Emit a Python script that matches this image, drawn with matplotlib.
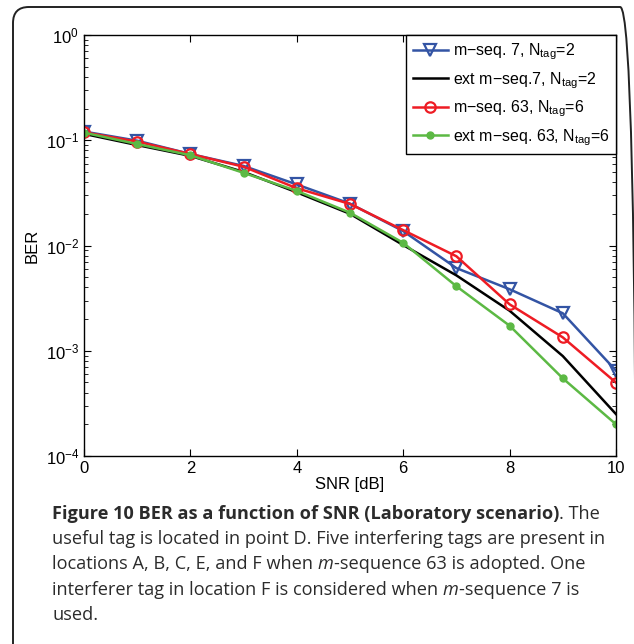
import matplotlib
matplotlib.use('Agg')
import matplotlib.pyplot as plt
from matplotlib.patches import FancyBboxPatch
from matplotlib.ticker import LogLocator, NullFormatter

# data
snr_db = [0, 1, 2, 3, 4, 5, 6, 7, 8, 9, 10]
ber_mseq7 = [0.121, 0.099, 0.074, 0.057, 0.038, 0.025, 0.0137, 0.0061, 0.00384, 0.00227, 0.000647]
ber_ext_mseq7 = [0.115, 0.090, 0.071, 0.050, 0.032, 0.020, 0.0101, 0.0052, 0.0024, 0.00089, 0.00025]
ber_mseq63 = [0.119, 0.097, 0.074, 0.056, 0.035, 0.0248, 0.0140, 0.0079, 0.00276, 0.00134, 0.000498]
ber_ext_mseq63 = [0.118, 0.092, 0.072, 0.049, 0.033, 0.0205, 0.0106, 0.0041, 0.00173, 0.000547, 0.0002]

labels = ['m\u2212seq. 7, N$_{\\mathrm{tag}}$=2',
          'ext m\u2212seq.7, N$_{\\mathrm{tag}}$=2',
          'm\u2212seq. 63, N$_{\\mathrm{tag}}$=6',
          'ext m\u2212seq. 63, N$_{\\mathrm{tag}}$=6']

caption_lines = [
    [('Figure 10 BER as a function of SNR (Laboratory scenario)', 'bold'), ('. The', 'normal')],
    [('useful tag is located in point D. Five interfering tags are present in', 'normal')],
    [('locations A, B, C, E, and F when ', 'normal'), ('m', 'italic'),
     ('-sequence 63 is adopted. One', 'normal')],
    [('interferer tag in location F is considered when ', 'normal'), ('m', 'italic'),
     ('-sequence 7 is', 'normal')],
    [('used.', 'normal')],
]

plt.rcParams['font.family'] = ['Liberation Sans', 'DejaVu Sans']
plt.rcParams['mathtext.fontset'] = 'custom'
plt.rcParams['mathtext.rm'] = 'Liberation Sans'
plt.rcParams['mathtext.it'] = 'Liberation Sans:italic'

LABEL_SIZE = 12
TICK_SIZE = 12
LEGEND_SIZE = 11.5
CAP_SIZE = 13.1

fig = plt.figure(figsize=(6.34, 6.44), dpi=100)
ax = fig.add_axes([84 / 634, 1 - 456 / 644, 532 / 634, 421 / 644])

ax.plot(snr_db, ber_mseq7, color='#3354a4', lw=1.8, marker='v', ms=8,
        mfc='none', mew=1.6, label=labels[0])
ax.plot(snr_db, ber_ext_mseq7, color='black', lw=1.8, label=labels[1])
ax.plot(snr_db, ber_mseq63, color='#ee1c24', lw=1.8, marker='o', ms=7.5,
        mfc='none', mew=1.6, label=labels[2])
ax.plot(snr_db, ber_ext_mseq63, color='#5cb944', lw=1.8, marker='o', ms=5,
        mfc='#5cb944', mec='#5cb944', label=labels[3])

ax.set_yscale('log')
ax.set_ylim(1e-4, 1)
ax.set_xlim(0, 10)
ax.set_xticks([0, 2, 4, 6, 8, 10])
ax.yaxis.set_major_locator(LogLocator(base=10, numticks=10))
ax.yaxis.set_minor_locator(LogLocator(base=10, subs=range(2, 10), numticks=10))
ax.yaxis.set_minor_formatter(NullFormatter())
ax.tick_params(which='both', direction='in', top=True, right=True, labelsize=TICK_SIZE)
ax.tick_params(which='major', length=5)
ax.tick_params(which='minor', length=3)
for sp in ax.spines.values():
    sp.set_linewidth(1.0)

ax.set_xlabel('SNR [dB]', fontsize=LABEL_SIZE, labelpad=1)
ax.set_ylabel('BER', fontsize=LABEL_SIZE, labelpad=4)

leg = ax.legend(loc='upper right', fontsize=LEGEND_SIZE, fancybox=False,
                framealpha=1, edgecolor='black', borderaxespad=0,
                handlelength=2.2, handletextpad=0.3, labelspacing=0.5,
                borderpad=0.4)
leg.get_frame().set_linewidth(1.0)

# rounded frame around the whole panel
frame = FancyBboxPatch((13 / 634, -0.05), (636 - 13) / 634, 1.05 - 7 / 644,
                       boxstyle='round,pad=0,rounding_size=0.025',
                       transform=fig.transFigure, fill=False,
                       edgecolor='#222222', lw=1.4, clip_on=False)
fig.add_artist(frame)


# caption, built from segments chained one after another
def caption_style(kind):
    st = dict(fontsize=CAP_SIZE, family=['Open Sans', 'DejaVu Sans'], color='#2b2b2b')
    if kind == 'bold':
        st['weight'] = 'bold'
    if kind == 'italic':
        st['style'] = 'italic'
    return st


y0 = 1 - 514 / 644
for i, parts in enumerate(caption_lines):
    y = y0 - i * 25.2 / 644
    txt = fig.text(52 / 634, y, parts[0][0], va='center', ha='left', **caption_style(parts[0][1]))
    for seg, kind in parts[1:]:
        txt = ax.annotate(seg, xy=(1, 0), xycoords=txt, va='bottom', ha='left',
                          annotation_clip=False, **caption_style(kind))

fig.savefig('out.png', dpi=100)
